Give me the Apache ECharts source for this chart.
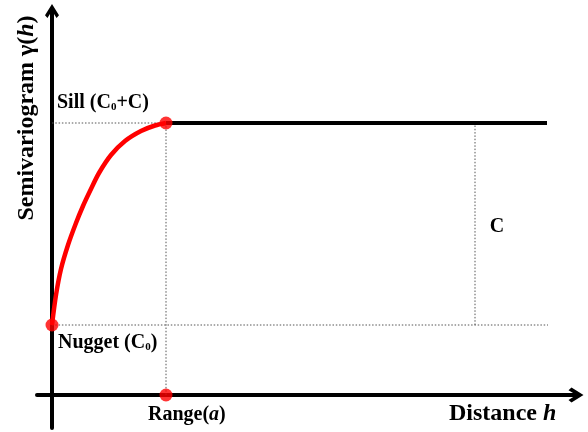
<!DOCTYPE html>
<html>
<head>
<meta charset="utf-8">
<script src="https://cdn.jsdelivr.net/npm/echarts@6/dist/echarts.min.js"></script>
<style>
html,body{margin:0;padding:0;background:#fff;}
#chart{width:588px;height:432px;}
</style>
</head>
<body>
<div id="chart"></div>
<script>
// Semivariogram curve (distance, gamma)
const curveX = [0, 4, 9, 16, 24, 31, 38, 47, 59, 73, 89, 103, 114];
const curveY = [70, 100, 126, 150, 172, 189, 204, 222, 240, 254, 264, 269.5, 272];
// key values
const nuggetValue = 70;
const sillValue = 272;
const rangeValue = 114;
const sillEndDist = 495;
const cMarkDist = 423;
const axisX = [-15, 524];
const axisY = [-33, 384];

const FONT = "'Liberation Serif','Times New Roman',serif";
const chevron = 'path://M50,0 L100,80 L82.5,100 L50,48 L17.5,100 L0,80 Z';

const curveData = curveX.map((x, i) => [x, curveY[i]]);
const dotted = {type: [1.5, 1.8], color: '#555', width: 1};

function seg(data) {
  return {type: 'line', data: data, symbol: 'none', silent: true,
          lineStyle: dotted, z: 2, animation: false};
}

const chart = echarts.init(document.getElementById('chart'), null, {renderer: 'canvas'});
chart.setOption({
  animation: false,
  backgroundColor: '#fff',
  grid: {left: 37, right: 12, top: 11, bottom: 4, containLabel: false},
  xAxis: {
    type: 'value', min: axisX[0], max: axisX[1],
    axisLine: {show: true, onZero: true, lineStyle: {color: '#000', width: 4},
               symbol: ['none', chevron], symbolSize: [18, 15]},
    axisTick: {show: false}, axisLabel: {show: false}, splitLine: {show: false}
  },
  yAxis: {
    type: 'value', min: axisY[0], max: axisY[1],
    axisLine: {show: true, onZero: true, lineStyle: {color: '#000', width: 4},
               symbol: ['none', chevron], symbolSize: [16, 14]},
    axisTick: {show: false}, axisLabel: {show: false}, splitLine: {show: false}
  },
  series: [
    seg([[0, sillValue], [rangeValue, sillValue]]),
    seg([[0, nuggetValue], [sillEndDist + 1, nuggetValue]]),
    seg([[rangeValue, 0], [rangeValue, sillValue]]),
    seg([[cMarkDist, nuggetValue], [cMarkDist, sillValue]]),
    {
      type: 'line', data: [[rangeValue, sillValue], [sillEndDist, sillValue]],
      symbol: 'none', lineStyle: {color: '#000', width: 4}, z: 3
    },
    {
      type: 'line', data: curveData, symbol: 'none', smooth: 0.3,
      lineStyle: {color: '#ff0000', width: 4.5}, z: 4
    },
    {
      type: 'scatter', symbolSize: 13, itemStyle: {color: '#ff0000'}, z: 5,
      data: [[0, nuggetValue], [rangeValue, sillValue], [rangeValue, 0]]
    }
  ],
  graphic: [
    {type: 'text', x: 57, y: 103, silent: true, style: {
      text: '{n|Sill (C}{s|0}{n|+C)}', textVerticalAlign: 'middle', textAlign: 'left',
      rich: {n: {fontFamily: FONT, fontWeight: 'bold', fontSize: 20, fill: '#000'},
             s: {fontFamily: FONT, fontWeight: 'bold', fontSize: 11, fill: '#000', verticalAlign: 'bottom'}}
    }},
    {type: 'text', x: 58, y: 343, silent: true, style: {
      text: '{n|Nugget (C}{s|0}{n|)}', textVerticalAlign: 'middle', textAlign: 'left',
      rich: {n: {fontFamily: FONT, fontWeight: 'bold', fontSize: 20, fill: '#000'},
             s: {fontFamily: FONT, fontWeight: 'bold', fontSize: 11, fill: '#000', verticalAlign: 'bottom'}}
    }},
    {type: 'text', x: 148, y: 415, silent: true, style: {
      text: '{n|Range(}{i|a}{n|)}', textVerticalAlign: 'middle', textAlign: 'left',
      rich: {n: {fontFamily: FONT, fontWeight: 'bold', fontSize: 20, fill: '#000'},
             i: {fontFamily: FONT, fontWeight: 'bold', fontStyle: 'italic', fontSize: 20, fill: '#000'}}
    }},
    {type: 'text', x: 497, y: 227, silent: true, style: {
      text: 'C', textVerticalAlign: 'middle', textAlign: 'center',
      font: 'bold 20px ' + FONT, fill: '#000'
    }},
    {type: 'text', x: 449, y: 414, silent: true, style: {
      text: '{n|Distance }{i|h}', textVerticalAlign: 'middle', textAlign: 'left',
      rich: {n: {fontFamily: FONT, fontWeight: 'bold', fontSize: 24, fill: '#000'},
             i: {fontFamily: FONT, fontWeight: 'bold', fontStyle: 'italic', fontSize: 24, fill: '#000'}}
    }},
    {type: 'text', x: 27, y: 118, rotation: Math.PI / 2, silent: true, style: {
      text: '{n|Semivariogram γ(}{i|h}{n|)}', textVerticalAlign: 'middle', textAlign: 'center',
      rich: {n: {fontFamily: FONT, fontWeight: 'bold', fontSize: 24, fill: '#000'},
             i: {fontFamily: FONT, fontWeight: 'bold', fontStyle: 'italic', fontSize: 24, fill: '#000'}}
    }}
  ]
});
</script>
</body>
</html>
